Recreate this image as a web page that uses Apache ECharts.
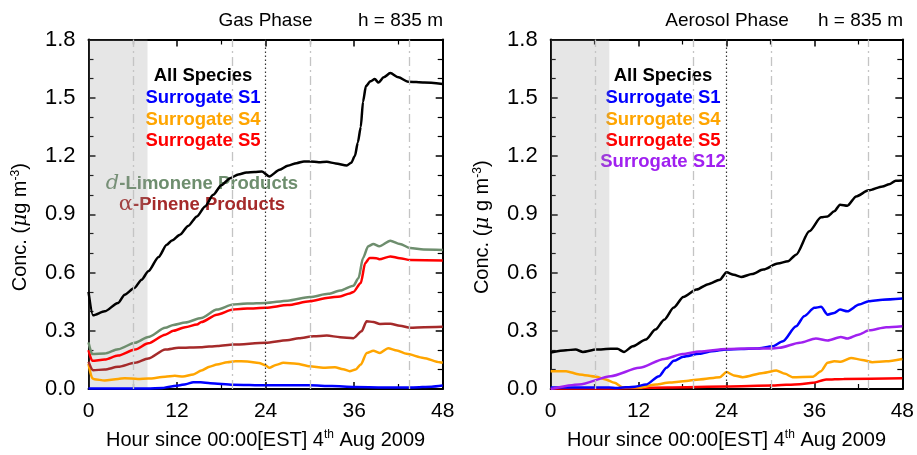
<!DOCTYPE html>
<html>
<head>
<meta charset="utf-8">
<script src="https://cdn.jsdelivr.net/npm/echarts@6/dist/echarts.min.js"></script>
<style>
  html, body { margin: 0; padding: 0; background: #fff; }
  #chart { width: 917px; height: 455px; }
</style>
</head>
<body>
<div id="chart"></div>
<script>
// Concentrations (µg m^-3) against hours since 00:00 EST, 4 Aug 2009, at h = 835 m.
// Each entry is [hour, concentration].

// Gas phase
const gasAll = [[0,0.50],[0.6,0.38],[2.2,0.40],[4.0,0.443],[4.9,0.486],[6.2,0.52],[7.2,0.563],[8.1,0.606],[9.5,0.68],[10.6,0.743],[11.3,0.765],[12.4,0.795],[13.5,0.84],[14.7,0.889],[15.8,0.94],[16.9,1.0],[18.0,1.05],[19.2,1.086],[20.3,1.105],[21.4,1.115],[22.5,1.118],[23.5,1.12],[24.5,1.095],[25.9,1.129],[27.0,1.15],[28.2,1.163],[29.2,1.172],[30.0,1.172],[31.2,1.168],[32.3,1.170],[33.5,1.162],[35.0,1.151],[35.6,1.165],[36.1,1.2],[36.5,1.27],[36.9,1.35],[37.2,1.48],[37.6,1.56],[38.2,1.585],[38.8,1.596],[39.3,1.578],[40.0,1.605],[40.9,1.627],[42.0,1.605],[43.3,1.583],[45.5,1.578],[48,1.571]];
const gasS1 = [[0,0.003],[4,0.003],[8,0.003],[10,0.005],[11,0.012],[12.2,0.018],[13.2,0.025],[14.2,0.035],[15.2,0.035],[16.5,0.03],[19.6,0.022],[24,0.019],[30,0.019],[33,0.015],[36,0.01],[40,0.008],[44,0.008],[46.5,0.012],[48,0.018]];
const gasS4 = [[0,0.13],[0.5,0.056],[0.8,0.05],[2.2,0.044],[4.0,0.052],[4.9,0.056],[6.7,0.052],[8.1,0.054],[10.4,0.063],[11.7,0.068],[12.8,0.064],[14.2,0.075],[15.3,0.095],[16.4,0.115],[17.4,0.126],[18.8,0.138],[19.9,0.143],[21.5,0.142],[23.1,0.134],[24.0,0.122],[24.5,0.109],[25.4,0.124],[26.4,0.135],[28.2,0.13],[30.0,0.117],[31.8,0.109],[33.4,0.112],[34.5,0.102],[35.4,0.092],[36.2,0.1],[36.9,0.126],[37.7,0.186],[38.6,0.197],[39.5,0.186],[40.6,0.21],[41.8,0.198],[43.1,0.181],[45.4,0.16],[47.6,0.138],[48,0.135]];
const gasS5 = [[0,0.2],[0.5,0.145],[2.2,0.152],[4.0,0.172],[6.3,0.203],[8.1,0.235],[10.4,0.28],[11.5,0.3],[13.1,0.318],[14.7,0.332],[15.3,0.345],[17.4,0.383],[19.6,0.409],[21.5,0.414],[24,0.418],[27,0.432],[30,0.452],[32.5,0.47],[34.1,0.477],[35.4,0.492],[35.9,0.5],[36.9,0.546],[37.5,0.649],[38.1,0.675],[39.0,0.674],[39.4,0.668],[40.9,0.683],[42.2,0.674],[43.6,0.664],[48,0.662]];
const gasLimonene = [[0,0.24],[0.5,0.18],[2.2,0.183],[4.0,0.205],[6.3,0.238],[8.1,0.268],[10.4,0.315],[11.5,0.33],[13.1,0.342],[15.3,0.366],[17.4,0.409],[19.6,0.435],[21.5,0.44],[24,0.443],[27,0.455],[30,0.474],[32.5,0.49],[34.1,0.507],[35.9,0.532],[36.6,0.572],[37.2,0.675],[37.9,0.735],[38.6,0.747],[39.4,0.735],[40.9,0.764],[42.2,0.747],[43.6,0.726],[45.4,0.718],[48,0.716]];
const gasPinene = [[0,0.14],[0.6,0.097],[2.2,0.1],[4.0,0.114],[6.3,0.135],[8.1,0.157],[10.4,0.203],[12.2,0.212],[15.2,0.215],[17.5,0.222],[19.6,0.229],[24,0.238],[26.9,0.251],[28.5,0.262],[30.5,0.272],[32.3,0.275],[34.1,0.267],[35.9,0.262],[37.0,0.297],[37.7,0.349],[38.6,0.345],[39.5,0.335],[40.9,0.336],[42.2,0.326],[43.6,0.315],[45.5,0.318],[48,0.32]];

// Aerosol phase
const aerAll = [[0,0.188],[2.1,0.2],[3.4,0.203],[4.4,0.191],[6.2,0.203],[8.2,0.207],[9.1,0.207],[10.0,0.191],[11.2,0.22],[13.0,0.255],[14.3,0.306],[15.5,0.357],[16.8,0.42],[18.1,0.474],[19.9,0.512],[21.5,0.54],[23.1,0.563],[24.0,0.601],[25.0,0.588],[26.0,0.577],[27.5,0.592],[29.0,0.615],[31.0,0.646],[32.4,0.658],[33.5,0.692],[35.3,0.812],[36.9,0.884],[37.8,0.889],[38.7,0.915],[39.5,0.949],[40.5,0.944],[41.7,0.992],[43.4,1.023],[45.3,1.043],[46.2,1.055],[47.1,1.073],[48,1.074]];
const aerS1 = [[0,0.008],[8,0.008],[9,0.005],[11.5,0.012],[13,0.023],[14.8,0.066],[15.8,0.109],[16.8,0.145],[18.1,0.166],[20.3,0.181],[22,0.195],[24,0.204],[26,0.206],[28.1,0.208],[30.3,0.22],[31.7,0.246],[33.5,0.323],[34.6,0.375],[36,0.418],[36.9,0.423],[37.8,0.383],[38.7,0.392],[39.5,0.409],[40.5,0.4],[42.1,0.435],[43.4,0.452],[45.3,0.46],[48,0.466]];
const aerS4 = [[0,0.092],[2.1,0.092],[3.9,0.075],[6.2,0.063],[7.5,0.049],[8.7,0.032],[9.8,0.009],[12.2,0.008],[14.4,0.023],[16.2,0.033],[18.1,0.04],[20.3,0.049],[23.1,0.061],[24.0,0.087],[25,0.07],[26.2,0.061],[29,0.083],[30.8,0.095],[32,0.078],[33,0.061],[35.8,0.063],[36.9,0.092],[37.8,0.135],[38.7,0.143],[39.6,0.14],[41,0.16],[42.5,0.15],[43.9,0.138],[45.8,0.143],[48,0.155]];
const aerS5 = [[0,0.002],[8,0.002],[10,0.004],[16,0.008],[24,0.013],[30.3,0.018],[34,0.025],[35.8,0.032],[37.6,0.049],[40,0.052],[48,0.055]];
const aerS12 = [[0,0.0],[3.9,0.023],[8.2,0.066],[12.1,0.109],[15.5,0.155],[18,0.18],[20.3,0.193],[24,0.206],[27,0.208],[30,0.208],[31.2,0.212],[34,0.238],[36.2,0.26],[37.8,0.25],[39.6,0.268],[40.5,0.26],[42,0.28],[43.5,0.302],[45.8,0.318],[48,0.323]];

// Axis ticks and reference times (hours)
const hourTicks = { min: 0, max: 48, step: 12 };
const concTicks = { min: 0, max: 1.8, step: 0.3 };
const nightSpan = [0, 8];
const sunTimes = [6.1, 19.5, 30.1, 43.4];
const midnight = [24];

const FONT = "'Liberation Sans', Arial, Helvetica, sans-serif";
const C = {
  all: '#000000', s1: '#0000ff', s4: '#ffa500', s5: '#ff0000',
  lim: '#6e8e6e', pin: '#a52a2a', s12: '#a020f0'
};

const grids = [
  { left: 88.5, right: 474.3, top: 39.5, bottom: 65.5 },
  { left: 550.7, right: 14, top: 39.5, bottom: 65.5 }
];

function xAxisFor(gi, pos) {
  const bottom = pos === 'bottom';
  return {
    type: 'value', gridIndex: gi, position: pos,
    min: hourTicks.min, max: hourTicks.max, interval: hourTicks.step,
    axisLine: { show: true, onZero: false, lineStyle: { color: '#000', width: 2 } },
    axisTick: { show: true, inside: true, length: 7, lineStyle: { color: '#000', width: 1.5 } },
    minorTick: { show: true, splitNumber: 2, length: 5, lineStyle: { color: '#000', width: 1.2 } },
    splitLine: { show: false },
    axisLabel: { show: bottom, color: '#000', fontFamily: FONT, fontSize: 21, margin: 12 },
    name: bottom ? 'Hour since 00:00[EST] 4{sup|th} Aug 2009' : '',
    nameLocation: 'middle', nameGap: 40,
    nameTextStyle: {
      color: '#000', fontFamily: FONT, fontSize: 20,
      rich: { sup: { fontSize: 12, fontFamily: FONT, color: '#000', padding: [0, 0, 10, 0] } }
    }
  };
}

function yAxisFor(gi, pos, nameText) {
  const left = pos === 'left';
  return {
    type: 'value', gridIndex: gi, position: pos,
    min: concTicks.min, max: concTicks.max, interval: concTicks.step,
    axisLine: { show: true, onZero: false, lineStyle: { color: '#000', width: 2 } },
    axisTick: { show: true, inside: true, length: 7, lineStyle: { color: '#000', width: 1.5 } },
    minorTick: { show: true, splitNumber: 3, length: 5, lineStyle: { color: '#000', width: 1.2 } },
    splitLine: { show: false },
    axisLabel: { show: left, color: '#000', fontFamily: FONT, fontSize: 22, margin: 13,
      formatter: v => v.toFixed(1) },
    name: left ? nameText : '',
    nameLocation: 'middle', nameGap: 57,
    nameTextStyle: {
      color: '#000', fontFamily: FONT, fontSize: 20,
      padding: [0, 26, 0, 0],
      rich: {
        mu: { fontFamily: "'DejaVu Serif', serif", fontStyle: 'italic', fontSize: 20, color: '#000' },
        sup: { fontSize: 12, fontFamily: FONT, color: '#000', padding: [0, 0, 10, 0] }
      }
    }
  };
}

function lineSeries(name, data, color, xi, yi, z) {
  return {
    name, type: 'line', data, xAxisIndex: xi, yAxisIndex: yi,
    showSymbol: false, symbol: 'none', smooth: 0.25, smoothMonotone: 'x',
    lineStyle: { color, width: 2.5 }, itemStyle: { color },
    z: z || 3, silent: true, animation: false
  };
}

// Guide lines (sunrise/sunset, midnight) and the shaded night window
function guideSeries(xi, yi) {
  return [
    {
      type: 'line', data: [], xAxisIndex: xi, yAxisIndex: yi, z: 1, silent: true,
      markLine: {
        symbol: 'none', silent: true, animation: false, label: { show: false },
        data: sunTimes.map(t => ({ xAxis: t, lineStyle: { color: '#c4c4c4', width: 1.3, type: [9, 4, 2, 4] } }))
          .concat(midnight.map(t => ({ xAxis: t, lineStyle: { color: '#333', width: 1.2, type: [1.5, 2.5] } })))
      }
    },
    {
      type: 'line', data: [], xAxisIndex: xi, yAxisIndex: yi, z: 10, silent: true,
      markArea: {
        silent: true, animation: false,
        itemStyle: { color: 'rgba(150,150,150,0.24)' },
        data: [[{ xAxis: nightSpan[0] }, { xAxis: nightSpan[1] }]]
      }
    }
  ];
}

function label(text, x, y, color, extra) {
  return {
    type: 'text', x, y, z: 0,
    style: Object.assign({
      text, fill: color, font: `bold 18.5px ${FONT}`,
      align: 'center', verticalAlign: 'middle'
    }, extra || {})
  };
}

const yName = 'Conc. ({mu|μ}g m{sup|-3})';
const yName2 = 'Conc. ({mu|μ} g m{sup|-3})';

const option = {
  backgroundColor: '#fff',
  animation: false,
  grid: grids,
  xAxis: [xAxisFor(0, 'bottom'), xAxisFor(0, 'top'), xAxisFor(1, 'bottom'), xAxisFor(1, 'top')],
  yAxis: [yAxisFor(0, 'left', yName), yAxisFor(0, 'right'), yAxisFor(1, 'left', yName2), yAxisFor(1, 'right')],
  series: [
    ...guideSeries(0, 0),
    lineSeries('Surrogate S1', gasS1, C.s1, 0, 0),
    lineSeries('Surrogate S4', gasS4, C.s4, 0, 0),
    lineSeries('α-Pinene Products', gasPinene, C.pin, 0, 0),
    lineSeries('Surrogate S5', gasS5, C.s5, 0, 0),
    lineSeries('d-Limonene Products', gasLimonene, C.lim, 0, 0),
    lineSeries('All Species', gasAll, C.all, 0, 0),

    ...guideSeries(2, 2),
    lineSeries('Surrogate S5', aerS5, C.s5, 2, 2),
    lineSeries('Surrogate S4', aerS4, C.s4, 2, 2),
    lineSeries('Surrogate S1', aerS1, C.s1, 2, 2),
    lineSeries('Surrogate S12', aerS12, C.s12, 2, 2),
    lineSeries('All Species', aerAll, C.all, 2, 2)
  ],
  graphic: [
    { type: 'text', x: 265.5, y: 21, style: { text: 'Gas Phase', fill: '#000', font: `19px ${FONT}`, align: 'center', verticalAlign: 'middle' } },
    { type: 'text', x: 443, y: 21, style: { text: 'h = 835 m', fill: '#000', font: `19px ${FONT}`, align: 'right', verticalAlign: 'middle' } },
    { type: 'text', x: 727, y: 21, style: { text: 'Aerosol Phase', fill: '#000', font: `19px ${FONT}`, align: 'center', verticalAlign: 'middle' } },
    { type: 'text', x: 903, y: 21, style: { text: 'h = 835 m', fill: '#000', font: `19px ${FONT}`, align: 'right', verticalAlign: 'middle' } },

    label('All Species', 203, 76, C.all),
    label('Surrogate S1', 203, 98, C.s1),
    label('Surrogate S4', 203, 119.5, C.s4),
    label('Surrogate S5', 203, 140.5, C.s5),
    {
      type: 'text', x: 202, y: 184, z: 0,
      style: {
        text: '{d|d}-Limonene Products', fill: C.lim, font: `bold 18.5px ${FONT}`,
        align: 'center', verticalAlign: 'middle',
        rich: { d: { fontFamily: "'DejaVu Serif', serif", fontStyle: 'italic', fontWeight: 'normal', fontSize: 21, fill: C.lim } }
      }
    },
    {
      type: 'text', x: 202, y: 205, z: 0,
      style: {
        text: '{a|α}-Pinene Products', fill: C.pin, font: `bold 18.5px ${FONT}`,
        align: 'center', verticalAlign: 'middle',
        rich: { a: { fontFamily: "'DejaVu Serif', serif", fontWeight: 'normal', fontSize: 21, fill: C.pin } }
      }
    },

    label('All Species', 663, 76, C.all),
    label('Surrogate S1', 663, 98, C.s1),
    label('Surrogate S4', 663, 119.5, C.s4),
    label('Surrogate S5', 663, 140.5, C.s5),
    label('Surrogate S12', 663, 161.5, C.s12)
  ]
};

const chart = echarts.init(document.getElementById('chart'), null, { renderer: 'canvas' });
chart.setOption(option);
</script>
</body>
</html>
